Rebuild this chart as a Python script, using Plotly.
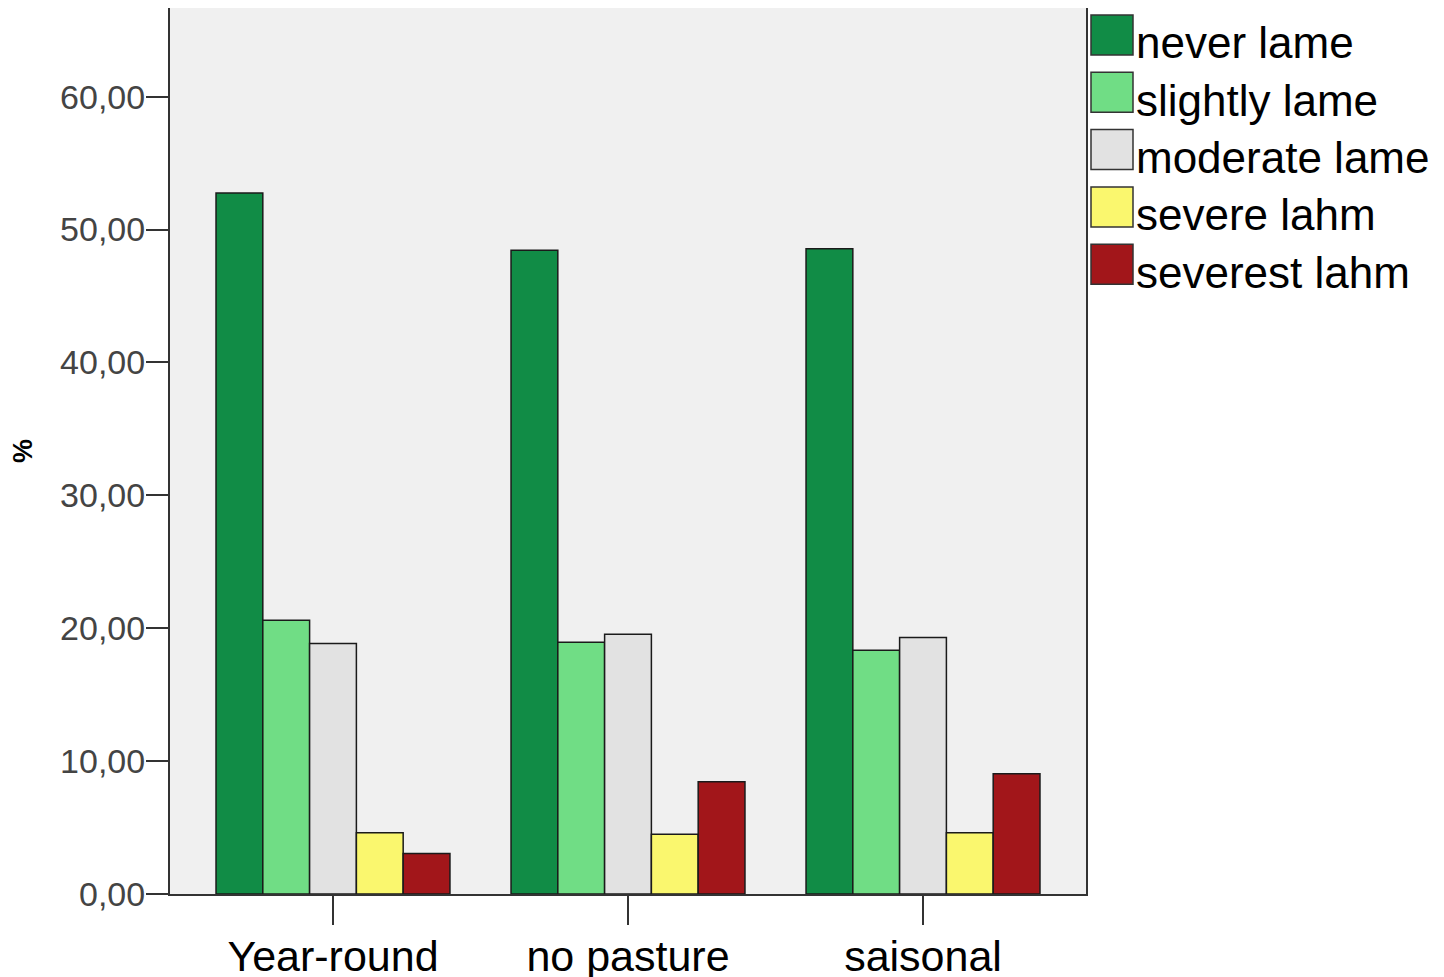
import plotly.graph_objects as go

categories = ["Year-round", "no pasture", "saisonal"]
series_names = ["never lame", "slightly lame", "moderate lame", "severe lahm", "severest lahm"]
never_lame = [52.75, 48.45, 48.55]
slightly_lame = [20.6, 18.95, 18.35]
moderate_lame = [18.85, 19.55, 19.3]
severe_lahm = [4.6, 4.5, 4.6]
severest_lahm = [3.05, 8.45, 9.05]
series_values = [never_lame, slightly_lame, moderate_lame, severe_lahm, severest_lahm]
colors = ["#118C46", "#70DD85", "#E2E2E2", "#FAF76E", "#A2161A"]
y_tickvals = [0, 10, 20, 30, 40, 50, 60]
y_ticktext = ["0,00", "10,00", "20,00", "30,00", "40,00", "50,00", "60,00"]

OFF = 8  # page offset of the figure in the browser
W, H = 1444 - OFF, 977 - OFF
# plot area in page pixels
PL, PR, PT, PB = 170, 1086, 8, 894
L, R, T, B = PL - OFF, PR - OFF, PT - OFF, PB - OFF

fig = go.Figure()
for name, vals, col in zip(series_names, series_values, colors):
    fig.add_trace(go.Bar(
        x=categories, y=vals, name=name,
        marker=dict(color=col, line=dict(color="#1a1a1a", width=1.5)),
        showlegend=False,
    ))


def px_x(px):
    return (px - PL) / (PR - PL)


def px_y(py):
    return (PB - py) / (PB - PT)


shapes = []
annotations = []
for i, (name, col) in enumerate(zip(series_names, colors)):
    top = 15 + i * 57.3
    shapes.append(dict(type="rect", xref="paper", yref="paper",
                       x0=px_x(1091), x1=px_x(1133), y0=px_y(top + 40), y1=px_y(top),
                       fillcolor=col, line=dict(color="#333333", width=1.5)))
    annotations.append(dict(xref="paper", yref="paper", x=px_x(1134), y=px_y(top + 28),
                            xanchor="left", yanchor="middle", text=name, showarrow=False,
                            font=dict(family="Liberation Sans, Arial", size=44, color="#000000")))

fig.update_layout(
    width=W, height=H,
    margin=dict(l=L, r=W - R, t=T, b=H - B, autoexpand=False),
    paper_bgcolor="#FFFFFF",
    plot_bgcolor="#F0F0F0",
    barmode="group",
    bargap=0.207,
    bargroupgap=0,
    font=dict(family="Liberation Sans, Arial", color="#000000"),
    shapes=shapes,
    annotations=annotations,
    xaxis=dict(
        type="category",
        range=[-0.5525, 2.5525],
        showline=True, linecolor="#333333", linewidth=2, mirror=True,
        ticks="outside", ticklen=29, tickwidth=2, tickcolor="#333333",
        tickfont=dict(size=43, color="#000000"),
        ticklabelstandoff=-6,
        showgrid=False, automargin=False,
    ),
    yaxis=dict(
        range=[0, 66.67],
        tickvals=y_tickvals, ticktext=y_ticktext,
        showline=True, linecolor="#333333", linewidth=2, mirror=True,
        ticks="outside", ticklen=22, tickwidth=2, tickcolor="#333333",
        tickfont=dict(size=34, color="#444444"),
        ticklabelstandoff=-6,
        showgrid=False, zeroline=False, automargin=False,
        title=dict(text="<b>%</b>", font=dict(size=27, color="#000000"), standoff=22),
    ),
)

fig.write_html("out.html")
